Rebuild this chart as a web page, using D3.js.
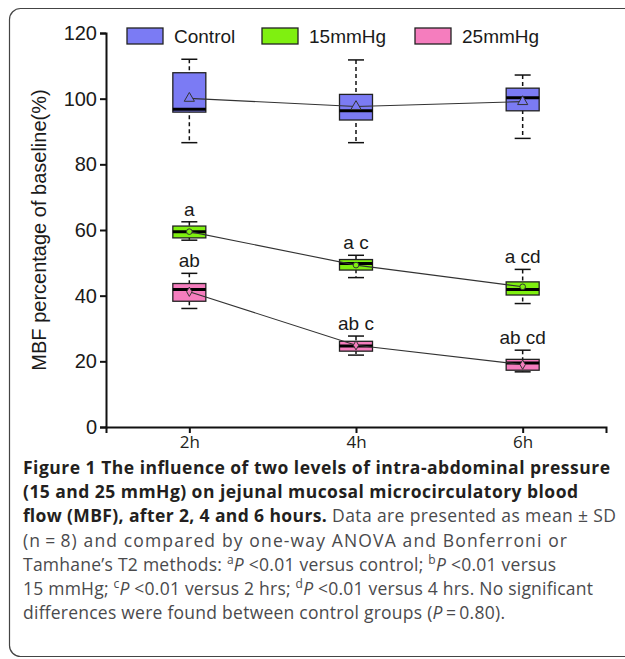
<!DOCTYPE html>
<html>
<head>
<meta charset="utf-8">
<script src="https://cdn.jsdelivr.net/npm/d3@7"></script>
<style>
body { margin: 0; background: #fff; }
</style>
</head>
<body>
<div id="chart"></div>
<script>
var svgWidth = 625;
var svgHeight = 659;

var timepoints = ["2h", "4h", "6h"];
var groups = ["Control", "15mmHg", "25mmHg"];
var groupColors = ["#7b7bf4", "#7ff010", "#f57dbe"];
var yTicks = [0, 20, 40, 60, 80, 100, 120];

// box stats, one value per timepoint (2h, 4h, 6h)
var controlLow    = [86.6, 86.6, 87.9];
var controlQ1     = [95.9, 93.5, 96.3];
var controlMedian = [96.8, 96.3, 100.3];
var controlQ3     = [107.9, 101.3, 103.2];
var controlHigh   = [112.0, 111.8, 107.2];
var controlMean   = [100.1, 97.6, 99.1];

var p15Low    = [56.9, 45.5, 37.6];
var p15Q1     = [57.6, 47.8, 40.2];
var p15Median = [59.5, 49.8, 41.9];
var p15Q3     = [61.2, 51.0, 44.2];
var p15High   = [62.5, 52.3, 48.0];
var p15Mean   = [59.5, 49.3, 42.7];
var p15Sig    = ["a", "a c", "a cd"];

var p25Low    = [36.1, 21.9, 16.8];
var p25Q1     = [38.3, 23.1, 17.3];
var p25Median = [41.9, 24.7, 19.5];
var p25Q3     = [43.7, 26.1, 20.6];
var p25High   = [46.8, 27.7, 23.4];
var p25Mean   = [41.2, 24.9, 19.0];
var p25Sig    = ["ab", "ab c", "ab cd"];

var captionLines = [
  [{t: "Figure 1 The influence of two levels of intra-abdominal pressure", b: 1}],
  [{t: "(15 and 25 mmHg) on jejunal mucosal microcirculatory blood", b: 1}],
  [{t: "flow (MBF), after 2, 4 and 6 hours.", b: 1}, {t: " Data are presented as mean \u00b1 SD"}],
  [{t: "(n\u2009=\u20098) and compared by one-way ANOVA and Bonferroni or"}],
  [{t: "Tamhane\u2019s T2 methods: "}, {t: "a", s: 1}, {t: "P", i: 1}, {t: " <0.01 versus control; "}, {t: "b", s: 1}, {t: "P", i: 1}, {t: " <0.01 versus"}],
  [{t: "15 mmHg; "}, {t: "c", s: 1}, {t: "P", i: 1}, {t: " <0.01 versus 2 hrs; "}, {t: "d", s: 1}, {t: "P", i: 1}, {t: " <0.01 versus 4 hrs. No significant"}],
  [{t: "differences were found between control groups ("}, {t: "P", i: 1}, {t: "\u2009=\u20090.80)."}]
];
var captionEnds = [610, 578, 616, 567, 556, 593, 505];

var series = [
  {name: groups[0], color: groupColors[0], symbol: d3.symbolTriangle, low: controlLow, q1: controlQ1, med: controlMedian, q3: controlQ3, high: controlHigh, mean: controlMean, sig: null},
  {name: groups[1], color: groupColors[1], symbol: d3.symbolCircle, low: p15Low, q1: p15Q1, med: p15Median, q3: p15Q3, high: p15High, mean: p15Mean, sig: p15Sig},
  {name: groups[2], color: groupColors[2], symbol: d3.symbolDiamond, low: p25Low, q1: p25Q1, med: p25Median, q3: p25Q3, high: p25High, mean: p25Mean, sig: p25Sig}
];

var svg = d3.select("#chart")
            .append("svg")
            .attr("width", svgWidth)
            .attr("height", svgHeight);

// figure frame (right side runs off the page)
svg.append("rect")
   .attr("x", 9.5).attr("y", 8.5)
   .attr("width", 700).attr("height", 648)
   .attr("rx", 11)
   .attr("fill", "none")
   .attr("stroke", "#444")
   .attr("stroke-width", 1.2);

var xScale = d3.scalePoint()
               .domain(timepoints)
               .range([106, 606])
               .padding(0.5);

var yScale = d3.scaleLinear()
               .domain([0, 120])
               .range([427, 33]);

var boxW = 33;
var capW = 16;

// axes
var yAxis = svg.append("g")
               .attr("transform", "translate(106,0)")
               .call(d3.axisLeft(yScale).tickValues(yTicks).tickSize(6).tickPadding(3));
yAxis.select(".domain").attr("stroke", "#111").attr("stroke-width", 2);
yAxis.selectAll(".tick line").attr("stroke", "#111").attr("stroke-width", 2);
yAxis.selectAll("text")
     .attr("font-family", "Liberation Sans, Arial, sans-serif")
     .attr("font-size", "20px")
     .attr("fill", "#1a1a1a");

var xAxis = svg.append("g")
               .attr("transform", "translate(0,427)")
               .call(d3.axisBottom(xScale).tickSize(6).tickSizeOuter(6).tickPadding(3));
xAxis.select(".domain").attr("stroke", "#111").attr("stroke-width", 2);
xAxis.selectAll(".tick line").attr("stroke", "#111").attr("stroke-width", 2);
xAxis.selectAll("text")
     .attr("font-family", "Open Sans, sans-serif")
     .attr("font-size", "17px")
     .attr("fill", "#231f20");

svg.append("text")
   .attr("transform", "translate(46," + ((yScale(0) + yScale(120)) / 2) + ") rotate(-90)")
   .attr("text-anchor", "middle")
   .attr("font-family", "Liberation Sans, Arial, sans-serif")
   .attr("font-size", "20px")
   .attr("fill", "#1a1a1a")
   .text("MBF percentage of baseline(%)");

// boxes: whiskers first, then box, median and significance letters
series.forEach(function(s) {
    var g = svg.append("g");
    timepoints.forEach(function(t, i) {
        var cx = xScale(t);
        g.append("line")
         .attr("x1", cx).attr("x2", cx)
         .attr("y1", yScale(s.high[i])).attr("y2", yScale(s.low[i]))
         .attr("stroke", "#111").attr("stroke-width", 1.5)
         .attr("stroke-dasharray", "4,3");
        [s.high[i], s.low[i]].forEach(function(v) {
            g.append("line")
             .attr("x1", cx - capW / 2).attr("x2", cx + capW / 2)
             .attr("y1", yScale(v)).attr("y2", yScale(v))
             .attr("stroke", "#111").attr("stroke-width", 1.5);
        });
        g.append("rect")
         .attr("x", cx - boxW / 2)
         .attr("y", yScale(s.q3[i]))
         .attr("width", boxW)
         .attr("height", yScale(s.q1[i]) - yScale(s.q3[i]))
         .attr("fill", s.color)
         .attr("stroke", "#222")
         .attr("stroke-width", 1.3);
        g.append("line")
         .attr("x1", cx - boxW / 2).attr("x2", cx + boxW / 2)
         .attr("y1", yScale(s.med[i])).attr("y2", yScale(s.med[i]))
         .attr("stroke", "#000").attr("stroke-width", 3);
        if (s.sig) {
            g.append("text")
             .attr("x", cx)
             .attr("y", yScale(s.high[i]) - 6)
             .attr("text-anchor", "middle")
             .attr("font-family", "Liberation Sans, Arial, sans-serif")
             .attr("font-size", "19px")
             .attr("fill", "#1a1a1a")
             .text(s.sig[i]);
        }
    });
});

// mean lines and markers
series.forEach(function(s) {
    var line = d3.line()
                 .x(function(d, i) { return xScale(timepoints[i]); })
                 .y(function(d) { return yScale(d); });
    svg.append("path")
       .attr("d", line(s.mean))
       .attr("fill", "none")
       .attr("stroke", "#333")
       .attr("stroke-width", 1.1);
    svg.selectAll(null)
       .data(s.mean)
       .enter()
       .append("path")
       .attr("transform", function(d, i) { return "translate(" + xScale(timepoints[i]) + "," + yScale(d) + ")"; })
       .attr("d", d3.symbol().type(s.symbol).size(s.symbol === d3.symbolTriangle ? 45 : 25))
       .attr("fill", s.color)
       .attr("stroke", "#333")
       .attr("stroke-width", 1);
});

// legend
var legendX = [127, 262, 415];
series.forEach(function(s, i) {
    svg.append("rect")
       .attr("x", legendX[i]).attr("y", 28)
       .attr("width", 36).attr("height", 16)
       .attr("fill", s.color)
       .attr("stroke", "#222")
       .attr("stroke-width", 1.3);
    svg.append("text")
       .attr("x", legendX[i] + 47)
       .attr("y", 43)
       .attr("font-family", "Liberation Sans, Arial, sans-serif")
       .attr("font-size", "19px")
       .attr("fill", "#1a1a1a")
       .text(s.name);
});

// caption
var capX = 23;
captionLines.forEach(function(segs, li) {
    var txt = svg.append("text")
                 .attr("x", capX)
                 .attr("y", 474 + li * 24.2)
                 .attr("font-family", "Open Sans, sans-serif")
                 .attr("font-size", "17.5px")
                 .attr("textLength", captionEnds[li] - capX)
                 .attr("lengthAdjust", "spacing");
    var raised = false;
    segs.forEach(function(sg) {
        var sp = txt.append("tspan").text(sg.t);
        sp.attr("font-weight", sg.b ? 700 : 400)
          .attr("fill", sg.b ? "#231f20" : "#4a4a4c");
        if (sg.i) sp.attr("font-style", "italic");
        if (sg.s) {
            sp.attr("dy", -7).attr("font-size", "12px");
            raised = true;
        } else if (raised) {
            sp.attr("dy", 7);
            raised = false;
        }
    });
});
</script>
</body>
</html>
